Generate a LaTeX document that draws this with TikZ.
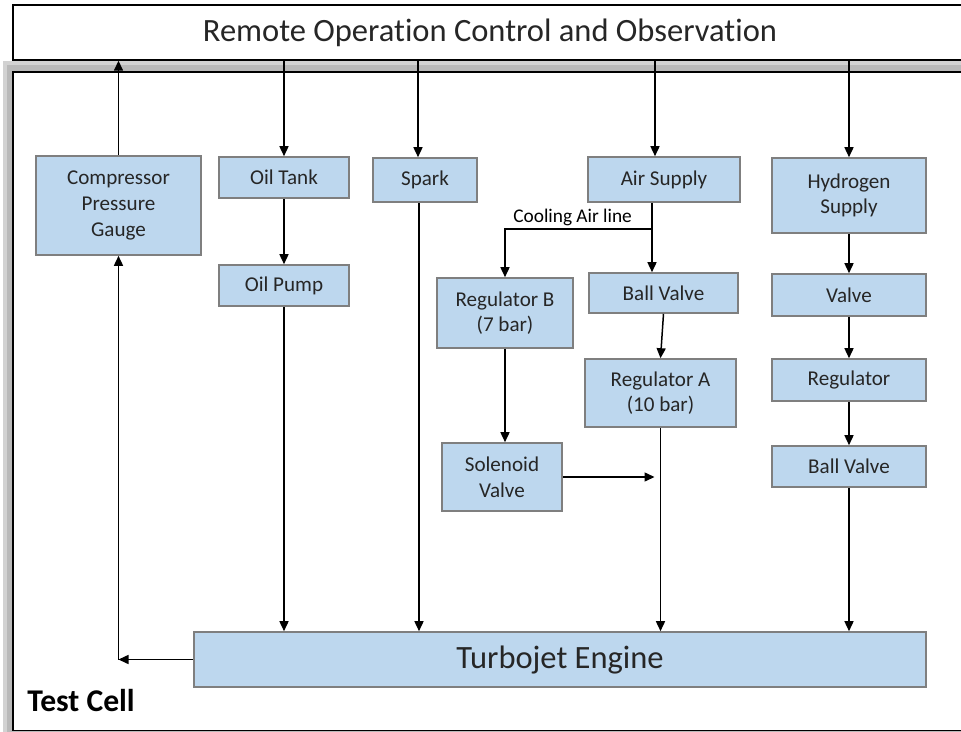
\documentclass[tikz,border=0pt]{standalone}
\usepackage{fontspec}
\setmainfont{Carlito}[Ligatures=NoCommon]
\usetikzlibrary{arrows.meta}

\definecolor{boxblue}{HTML}{BDD7EE}
\definecolor{boxline}{HTML}{7F7F7F}
\definecolor{boxtext}{HTML}{262626}

\tikzstyle{block} = [rectangle, draw=boxline, line width=0.9pt, fill=boxblue, text=boxtext, align=center, inner sep=0pt, font=\fontsize{12}{14.6}\selectfont]
\tikzstyle{arrow} = [line width=0.85pt, -{Triangle[length=2mm,width=1.8mm]}]

\begin{document}
\begin{tikzpicture}[x=0.2mm, y=-0.2mm]
\useasboundingbox (0,0) rectangle (961,731);
\clip (0,0) rectangle (961,731);

% test cell frame with its shadow
\fill[gray!35] (3,61) rectangle (990,740);
\fill[gray!55] (7,65) rectangle (990,740);
\draw[fill=white, line width=0.8pt] (13,72) rectangle (990,730.5);
\node (cell) [anchor=west, inner sep=0pt, font=\fontsize{18}{20}\selectfont\bfseries] at (27,701) {Test Cell};

% remote station
\node (remote) [draw, fill=white, line width=0.8pt, minimum width=192.4mm, minimum height=11mm, inner sep=0pt, label={[xshift=-0.8mm, text=boxtext, font=\fontsize{18.5}{20}\selectfont]center:Remote Operation Control and Observation}] at (494,32.5) {};

\node (gauge) [block, minimum width=33mm, minimum height=19.8mm] at (118.5,205.5) {Compressor\\Pressure\\Gauge};
\node (tank) [block, minimum width=26mm, minimum height=8.2mm] at (284,177.5) {Oil Tank};
\node (pump) [block, minimum width=26mm, minimum height=8.2mm] at (284,285.5) {Oil Pump};
\node (spark) [block, minimum width=20.8mm, minimum height=8.8mm] at (425,180) {Spark};
\node (air) [block, minimum width=30.4mm, minimum height=9mm] at (664,179.5) {Air Supply};
\node (hyd) [block, minimum width=30.8mm, minimum height=15mm] at (849,195.5) {Hydrogen\\Supply};
\node (regB) [block, minimum width=27.2mm, minimum height=14mm] at (505,313) {Regulator B\\(7 bar)};
\node (ballA) [block, minimum width=29.8mm, minimum height=8mm] at (663.5,293) {Ball Valve};
\node (regA) [block, minimum width=30.2mm, minimum height=13.6mm] at (660.5,393) {Regulator A\\(10 bar)};
\node (sol) [block, minimum width=24mm, minimum height=13.6mm] at (502,477) {Solenoid\\Valve};
\node (valve) [block, minimum width=30.8mm, minimum height=8.4mm] at (849,295) {Valve};
\node (reg) [block, minimum width=30.8mm, minimum height=8.4mm] at (849,380) {Regulator};
\node (ballH) [block, minimum width=30.8mm, minimum height=8.2mm] at (849,466.5) {Ball Valve};
\node (engine) [block, minimum width=146.4mm, minimum height=11mm, font=\fontsize{18.5}{20}\selectfont] at (560,659.5) {Turbojet Engine};

\coordinate (split) at (652,229);

% links to and from the remote station
\draw [arrow] (gauge.north) -- (gauge.north |- remote.south);
\draw [arrow] (remote.south -| tank.north) -- (tank.north);
\draw [arrow] ([xshift=-1.4mm]spark.north |- remote.south) -- ([xshift=-1.4mm]spark.north);
\draw [arrow] ([xshift=-1.8mm]air.north |- remote.south) -- ([xshift=-1.8mm]air.north);
\draw [arrow] (remote.south -| hyd.north) -- (hyd.north);

% oil and spark
\draw [arrow] (tank) -- (pump);
\draw [arrow] (pump.south) -- (pump.south |- engine.north);
\draw [arrow] ([xshift=-1.2mm]spark.south) -- ([xshift=-1.2mm]spark.south |- engine.north);

% air
\draw [arrow] (split |- air.south) -- (split |- ballA.north);
\draw [arrow] (split) -| node[above, pos=0.27, inner sep=1.5pt, text=black, font=\fontsize{11}{12}\selectfont] {Cooling Air line} (regB.north);
\draw [arrow] (ballA.south) -- (regA.north);
\draw [arrow] (regA.south) -- (regA.south |- engine.north);
\draw [arrow] (regB.south) -- (regB.south |- sol.north);
\draw [arrow] (sol.east) -- ([xshift=-1.2mm]sol.east -| regA.south);

% hydrogen
\draw [arrow] (hyd) -- (valve);
\draw [arrow] (valve) -- (reg);
\draw [arrow] (reg) -- (ballH);
\draw [arrow] (ballH.south) -- (ballH.south |- engine.north);

% back to the gauge
\draw [arrow] (engine.west) -- (engine.west -| gauge.south);
\draw [arrow] (engine.west -| gauge.south) -- (gauge.south);

\end{tikzpicture}
\end{document}
